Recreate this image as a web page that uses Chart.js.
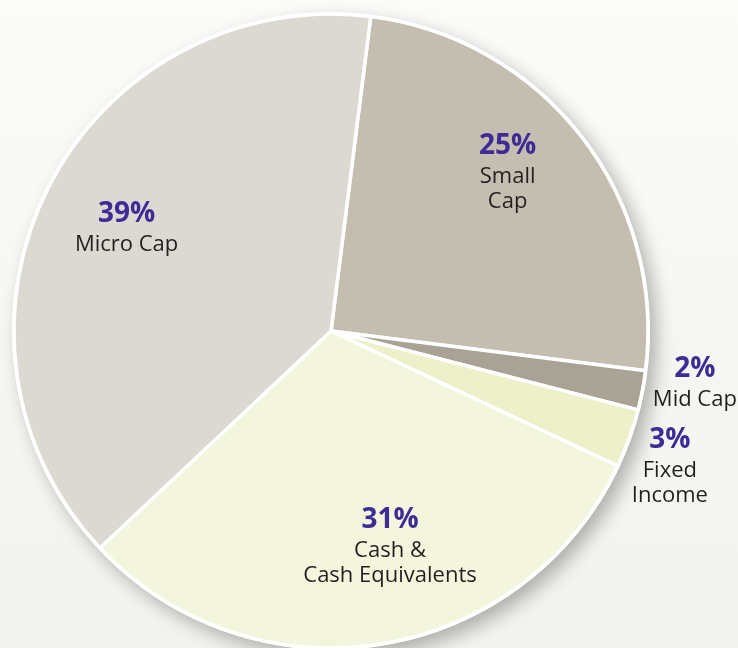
<!DOCTYPE html>
<html>
<head>
<meta charset="utf-8">
<script src="https://cdn.jsdelivr.net/npm/chart.js@4.4.1/dist/chart.umd.min.js"></script>
<style>
  html, body { margin: 0; padding: 0; }
  body {
    width: 738px; height: 648px; overflow: hidden;
    background: linear-gradient(to bottom, #fbfbf9 0%, #f6f6f3 50%, #f2f3ee 100%);
  }
  #wrap { position: relative; width: 738px; height: 648px; }
</style>
</head>
<body>
<div id="wrap"><canvas id="alloc"></canvas></div>
<script>
// Portfolio allocation, clockwise from just right of 12 o'clock
const segments = ['Small Cap', 'Mid Cap', 'Fixed Income', 'Cash & Cash Equivalents', 'Micro Cap'];
const shares = [25, 2, 3, 31, 39];
const labelLines = [['Small', 'Cap'], ['Mid Cap'], ['Fixed', 'Income'], ['Cash &', 'Cash Equivalents'], ['Micro Cap']];
const sliceColors = ['#c4beb1', '#a9a395', '#edf0c8', '#f3f5dd', '#dcd8d2'];

// label placement: angle nudge (deg) and distance as a fraction of the radius
const labelSpots = [[-3.8, 0.745], [-2.5, 1.16], [2.2, 1.153], [-6.2, 0.71], [-0.6, 0.72]];

const PURPLE = '#3e2b95';
const INK = '#231f20';

// soft drop shadow under the disc
const pieShadow = {
  id: 'pieShadow',
  beforeDatasetsDraw(chart) {
    const arc = chart.getDatasetMeta(0).data[0];
    if (!arc) return;
    const { x, y, outerRadius } = arc.getProps(['x', 'y', 'outerRadius'], true);
    const ctx = chart.ctx;
    ctx.save();
    ctx.shadowColor = 'rgba(0,0,0,0.28)';
    ctx.shadowBlur = 18;
    ctx.shadowOffsetX = 7;
    ctx.shadowOffsetY = 8;
    ctx.fillStyle = '#ffffff';
    ctx.beginPath();
    ctx.arc(x, y, outerRadius + 2, 0, Math.PI * 2);
    ctx.fill();
    ctx.restore();
  }
};

// percent + name written on / beside each slice
const sliceLabels = {
  id: 'sliceLabels',
  afterDatasetsDraw(chart) {
    const ctx = chart.ctx;
    const meta = chart.getDatasetMeta(0);
    ctx.save();
    ctx.textAlign = 'center';
    ctx.textBaseline = 'middle';
    meta.data.forEach((arc, i) => {
      const p = arc.getProps(['x', 'y', 'startAngle', 'endAngle', 'outerRadius'], true);
      const [nudge, frac] = labelSpots[i];
      const mid = (p.startAngle + p.endAngle) / 2 + nudge * Math.PI / 180;
      const r = p.outerRadius * frac;
      const cx = p.x + Math.cos(mid) * r;
      const cy = p.y + Math.sin(mid) * r;
      const lines = labelLines[i];
      const blockH = 31 + 25 * (lines.length - 1);
      let ty = cy - blockH / 2;
      ctx.fillStyle = PURPLE;
      ctx.font = 'bold 28px "Open Sans", sans-serif';
      ctx.fillText(shares[i] + '%', cx, ty);
      ctx.fillStyle = INK;
      ctx.font = '22px "Open Sans", sans-serif';
      ty += 31;
      lines.forEach(line => {
        ctx.fillText(line, cx, ty);
        ty += 25;
      });
    });
    ctx.restore();
  }
};

const canvas = document.getElementById('alloc');
canvas.width = 738;
canvas.height = 648;

new Chart(canvas.getContext('2d'), {
  type: 'pie',
  data: {
    labels: segments,
    datasets: [{
      data: shares,
      backgroundColor: sliceColors,
      borderColor: '#ffffff',
      borderWidth: 3.5,
      hoverOffset: 0
    }]
  },
  options: {
    responsive: false,
    animation: false,
    rotation: 7.2,
    radius: 317,
    layout: { padding: { left: 0, right: 76, top: 14, bottom: 0 } },
    plugins: {
      legend: { display: false },
      tooltip: { enabled: false }
    }
  },
  plugins: [pieShadow, sliceLabels]
});
</script>
</body>
</html>
